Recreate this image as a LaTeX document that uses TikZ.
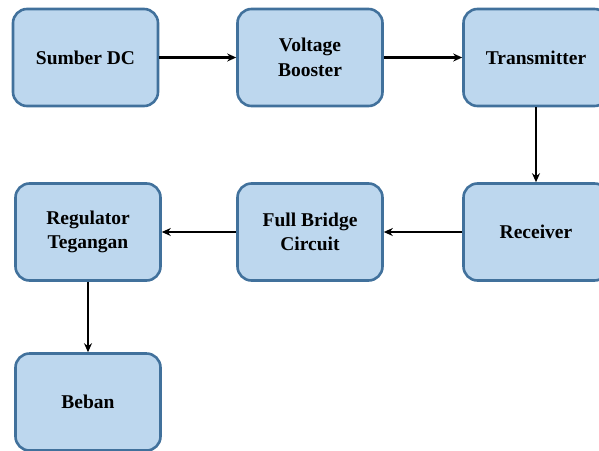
\documentclass[tikz,border=0pt]{standalone}
\usepackage{fontspec}
\setmainfont{Liberation Serif}
\usetikzlibrary{arrows.meta}
\definecolor{boxfill}{HTML}{BDD7EE}
\definecolor{boxline}{HTML}{41719C}
\begin{document}
\begin{tikzpicture}[x=1pt,y=-1pt,
  blk/.style={draw=boxline, line width=2.6pt, fill=boxfill, rounded corners=14pt,
    minimum width=145pt, minimum height=97pt, align=center, inner sep=0pt,
    font=\fontsize{19.5}{24.5}\selectfont\bfseries},
  conn/.style={draw=black, line width=2.8pt, -{Stealth[length=9pt,width=8pt]}}]
\useasboundingbox (0,0) rectangle (599,450);
\node[blk] (sumber) at (85.5,57.5) {Sumber DC};
\node[blk] (booster) at (310,57.5) {Voltage\\Booster};
\node[blk] (tx) at (536,57.5) {Transmitter};
\node[blk] (rx) at (536,232) {Receiver};
\node[blk] (bridge) at (310,232) {Full Bridge\\Circuit};
\node[blk] (reg) at (88,232) {Regulator\\Tegangan};
\node[blk] (beban) at (88,402) {Beban};
\draw[conn] (sumber) -- (booster);
\draw[conn] (booster) -- (tx);
\draw[conn] (tx) -- (rx);
\draw[conn] (rx) -- (bridge);
\draw[conn] (bridge) -- (reg);
\draw[conn] (reg) -- (beban);
\end{tikzpicture}
\end{document}
